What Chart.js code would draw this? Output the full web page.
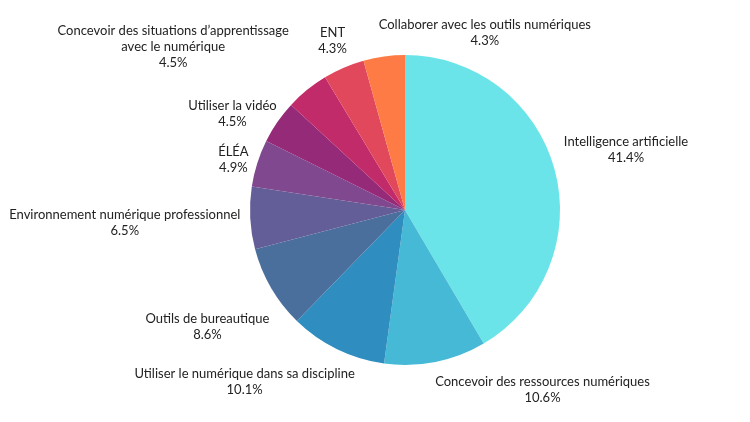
<!DOCTYPE html>
<html>
<head>
<meta charset="utf-8">
<script src="https://cdn.jsdelivr.net/npm/chart.js@4"></script>
<style>
  html, body { margin: 0; padding: 0; background: #fff; }
  #wrap { width: 750px; height: 422px; }
</style>
</head>
<body>
<div id="wrap"><canvas id="chart"></canvas></div>
<script>
const categories = [
  'Intelligence artificielle',
  'Concevoir des ressources numériques',
  'Utiliser le numérique dans sa discipline',
  'Outils de bureautique',
  'Environnement numérique professionnel',
  'ÉLÉA',
  'Utiliser la vidéo',
  ['Concevoir des situations d\u2019apprentissage', 'avec le numérique'],
  'ENT',
  'Collaborer avec les outils numériques'
];
const shares = [41.4, 10.6, 10.1, 8.6, 6.5, 4.9, 4.5, 4.5, 4.3, 4.3];
const colors = ['#6ae4e8', '#45b9d6', '#2f8dbf', '#4a6f9d', '#635d98', '#80498f', '#952a78', '#c22b69', '#e2485c', '#ff7b45'];

// hand-tuned nudges so labels don't collide
const nudges = [[-2, -12], [83, -2], [-38, 6], [2, 24], [4, 3], [4, 6], [3, 9], [-52, -14], [0, 1], [117, 6]];

const outsideLabels = {
  id: 'outsideLabels',
  afterDatasetsDraw(chart) {
    const ctx = chart.ctx;
    const arcs = chart.getDatasetMeta(0).data;
    ctx.save();
    ctx.font = '13px Lato';
    ctx.fillStyle = '#222';
    ctx.textAlign = 'center';
    ctx.textBaseline = 'middle';
    arcs.forEach((arc, i) => {
      const a = (arc.startAngle + arc.endAngle) / 2;
      const r = arc.outerRadius + 14;
      const lines = [].concat(categories[i], shares[i].toFixed(1) + '%');
      const w = Math.max(...lines.map(l => ctx.measureText(l).width));
      const lh = 16;
      const h = lines.length * lh;
      const cos = Math.cos(a), sin = Math.sin(a);
      const x = arc.x + cos * r + cos * w / 2 + nudges[i][0];
      const y = arc.y + sin * r + sin * h / 2 + nudges[i][1];
      lines.forEach((l, k) => ctx.fillText(l, x, y - h / 2 + lh / 2 + k * lh));
    });
    ctx.restore();
  }
};

new Chart(document.getElementById('chart'), {
  type: 'pie',
  data: {
    labels: categories,
    datasets: [{
      data: shares,
      backgroundColor: colors,
      borderWidth: 0
    }]
  },
  options: {
    responsive: true,
    maintainAspectRatio: false,
    animation: false,
    layout: { padding: { top: 55, bottom: 57, left: 60, right: 0 } },
    plugins: {
      legend: { display: false },
      tooltip: { enabled: false }
    }
  },
  plugins: [outsideLabels]
});
</script>
</body>
</html>
